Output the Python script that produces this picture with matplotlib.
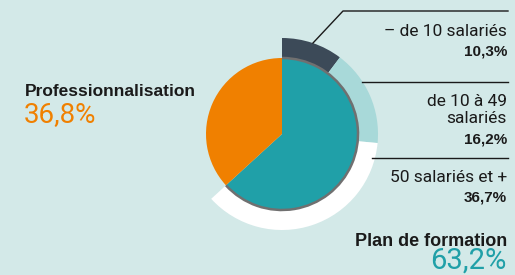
import matplotlib
matplotlib.use("Agg")
from matplotlib import pyplot as plt
from matplotlib.patches import Arc

# données
secteurs = ["Plan de formation", "Professionnalisation"]
parts = [63.2, 36.8]
tailles = ["– de 10 salariés", "de 10 à 49\nsalariés", "50 salariés et +"]
parts_tailles = [10.3, 16.2, 36.7]

fond = "#d3e9e8"
teal = "#20a0a8"
orange = "#f08000"
couleurs_anneau = ["#3c4a58", "#a8d9d9", "#ffffff"]
encre = "#1a1a1a"

plt.rcParams["font.family"] = ["Liberation Sans", "DejaVu Sans"]
leger = ["Roboto", "DejaVu Sans"]

fig = plt.figure(figsize=(5.15, 2.75), dpi=100, facecolor=fond)
ax = fig.add_axes([0, 0, 1, 1])
ax.set_facecolor(fond)

H = 275
cx, cy = 282, H - 134

# anneau extérieur (seulement la part "Plan de formation")
ax.pie(parts_tailles + [parts[1]], radius=96, center=(cx, cy), startangle=90,
       counterclock=False, colors=couleurs_anneau + ["none"],
       wedgeprops=dict(width=21, linewidth=0))

# camembert intérieur
ax.pie(parts, radius=76, center=(cx, cy), startangle=90, counterclock=False,
       colors=[teal, orange], wedgeprops=dict(linewidth=0))

# contour gris de la part teal
fin = 90 - parts[0] * 3.6
ax.add_patch(Arc((cx, cy), 152, 152, theta1=fin, theta2=90, color="#707070", lw=1.8))

ax.set_xlim(0, 515)
ax.set_ylim(0, H)
ax.set_aspect("equal")
ax.axis("off")

# traits de rappel
ax.plot([313, 343, 508], [H - 43, H - 11, H - 11], color=encre, lw=1)
ax.plot([362, 508], [H - 82, H - 82], color=encre, lw=1)
ax.plot([372, 508], [H - 158, H - 158], color=encre, lw=1)

def pct(v):
    return f"{v:.1f}".replace(".", ",") + "%"

xr = 507
ax.text(xr, H - 31, tailles[0], ha="right", va="center", fontsize=12.5, color=encre,
        family=leger)
ax.text(xr, H - 51, pct(parts_tailles[0]), ha="right", va="center", fontsize=11,
        fontweight="bold", color=encre)
ax.text(xr, H - 110, tailles[1], ha="right", va="center", fontsize=12.5, color=encre,
        family=leger, linespacing=1.15)
ax.text(xr, H - 139, pct(parts_tailles[1]), ha="right", va="center", fontsize=11,
        fontweight="bold", color=encre)
ax.text(xr, H - 178, tailles[2], ha="right", va="center", fontsize=12.5, color=encre,
        family=leger)
ax.text(xr, H - 198, pct(parts_tailles[2]), ha="right", va="center", fontsize=11,
        fontweight="bold", color=encre)

ax.text(xr, H - 241, secteurs[0], ha="right", va="center", fontsize=13,
        fontweight="bold", color=encre)
ax.text(xr, H - 261, pct(parts[0]), ha="right", va="center", fontsize=21, color=teal,
        family=leger)

ax.text(25, H - 92, secteurs[1], ha="left", va="center", fontsize=12.5,
        fontweight="bold", color=encre)
ax.text(24, H - 115, pct(parts[1]), ha="left", va="center", fontsize=20, color=orange,
        family=leger)

fig.savefig("out.png", dpi=100, facecolor=fond)
